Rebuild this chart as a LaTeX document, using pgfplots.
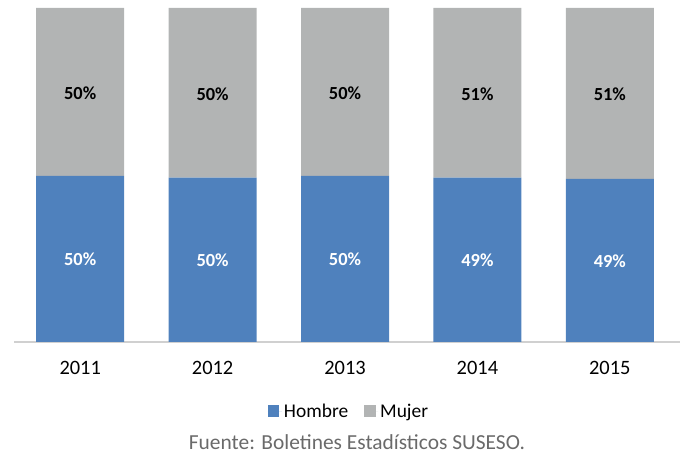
\documentclass[border=0pt]{standalone}
\usepackage{fontspec}
\setmainfont{Carlito}
\usepackage{pgfplots}
\pgfplotsset{compat=1.18}
\definecolor{hombre}{HTML}{4F81BD}
\definecolor{mujer}{HTML}{B2B4B4}
\definecolor{axisgray}{HTML}{D0D0D0}
\definecolor{srcgray}{HTML}{6A6A6A}
\begin{document}
\begin{tikzpicture}[x=1bp,y=1bp]
\path[use as bounding box] (0,0) rectangle (680,454);
\begin{axis}[
  at={(14bp,112bp)}, anchor=south west,
  scale only axis, width=666bp, height=334bp,
  ybar stacked, bar width=88bp,
  xmin=-0.5, xmax=4.53, ymin=0, ymax=100,
  axis x line=bottom, axis y line=none,
  x axis line style={axisgray, line width=1.5bp, -},
  xtick={0,1,2,3,4}, xticklabels={2011,2012,2013,2014,2015},
  major tick length=0pt,
  ytick=\empty,
  xticklabel style={font=\fontsize{20.5}{24}\selectfont, text=black, anchor=center, yshift=-26bp},
  legend style={at={(axis description cs:0.503,-0.207)}, anchor=center, draw=none, fill=none,
    font=\fontsize{19.5}{22}\selectfont, legend columns=2, inner sep=0pt,
    /tikz/every even column/.append style={column sep=14bp}},
  legend image code/.code={\fill[#1] (0bp,-5.5bp) rectangle (11.5bp,6bp);\path (0bp,0bp) -- (14bp,0bp);},
  clip=false,
]
\addplot[fill=hombre, draw=none] coordinates {(0,49.7) (1,49.2) (2,49.7) (3,49.2) (4,48.8)};
\addplot[fill=mujer, draw=none] coordinates {(0,50.3) (1,50.8) (2,50.3) (3,50.8) (4,51.2)};
\legend{Hombre,Mujer}
\end{axis}
\begin{axis}[
  at={(14bp,112bp)}, anchor=south west,
  scale only axis, width=666bp, height=334bp,
  xmin=-0.5, xmax=4.53, ymin=0, ymax=100,
  hide axis, clip=false,
  nodes near coords, point meta=explicit symbolic,
  every node near coord/.append style={anchor=center, font=\fontsize{18.5}{22}\selectfont\bfseries},
]
\addplot[draw=none, mark=none, nodes near coords style={text=white}] coordinates {
  (0,24.7) [50\%] (1,24.5) [50\%] (2,24.7) [50\%] (3,24.5) [49\%] (4,24.3) [49\%]};
\addplot[draw=none, mark=none, nodes near coords style={text=black}] coordinates {
  (0,74.5) [50\%] (1,74.3) [50\%] (2,74.5) [50\%] (3,74.3) [51\%] (4,74.1) [51\%]};
\end{axis}
\node[font=\fontsize{21.5}{24}\selectfont, text=srcgray, anchor=base, inner sep=0pt] at (357,4.5) {Fuente: Boletines Estadísticos SUSESO.};
\end{tikzpicture}
\end{document}
